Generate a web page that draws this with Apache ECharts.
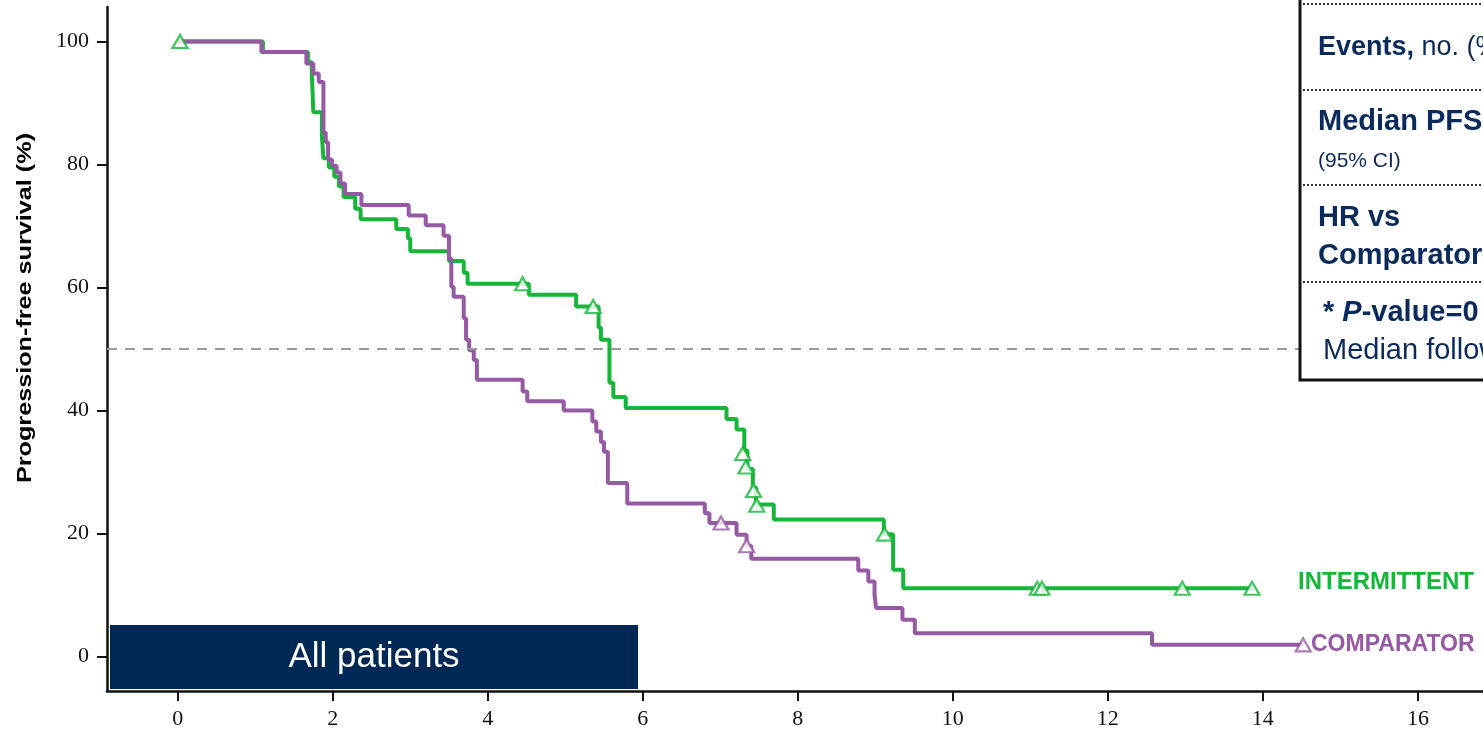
<!DOCTYPE html>
<html><head><meta charset="utf-8">
<script src="https://cdn.jsdelivr.net/npm/echarts@6/dist/echarts.min.js"></script>
<style>html,body{margin:0;padding:0;background:#fff}#c{width:1483px;height:735px}</style>
</head><body><div id="c"></div>
<script>
// ---- data ----
const xTicks = [0, 2, 4, 6, 8, 10, 12, 14, 16];
const yTicks = [0, 20, 40, 60, 80, 100];
const medianLevel = 50;

const intermittentTimes = [0, 1.10, 1.68, 1.73, 1.75, 1.86, 1.88, 1.95, 2.02, 2.08, 2.14, 2.29, 2.36, 2.82, 2.97, 3.00, 3.50, 3.69, 3.74, 4.53, 5.14, 5.43, 5.46, 5.57, 5.62, 5.78, 7.08, 7.21, 7.31, 7.35, 7.42, 7.46, 7.69, 9.11, 9.23, 9.36, 13.87];
const intermittentSurv  = [100, 98.3, 96.6, 94.8, 88.5, 84.7, 81.0, 79.5, 78.0, 76.4, 74.7, 72.8, 71.1, 69.5, 68.0, 65.9, 64.3, 62.4, 60.6, 58.8, 56.9, 53.5, 51.5, 44.5, 42.2, 40.4, 38.6, 36.9, 33.5, 30.5, 27.5, 24.7, 22.3, 19.9, 14.1, 11.1, 11.1];
const intermittentCensorTimes = [0.03, 4.45, 5.36, 7.29, 7.33, 7.43, 7.47, 9.12, 11.09, 11.15, 12.96, 13.86];
const intermittentCensorSurv  = [100, 60.6, 56.9, 33.0, 30.8, 27.0, 24.6, 19.9, 11.1, 11.1, 11.1, 11.1];

const comparatorTimes = [0, 1.08, 1.66, 1.75, 1.82, 1.88, 1.91, 1.94, 1.99, 2.05, 2.10, 2.16, 2.37, 2.98, 3.20, 3.43, 3.50, 3.53, 3.56, 3.69, 3.72, 3.76, 3.82, 3.86, 4.45, 4.51, 4.98, 5.35, 5.40, 5.46, 5.50, 5.55, 5.80, 6.80, 6.86, 7.21, 7.34, 7.40, 8.78, 8.91, 8.99, 9.01, 9.35, 9.51, 12.57, 14.52];
const comparatorSurv  = [100, 98.3, 96.4, 94.8, 93.4, 85.2, 83.6, 80.8, 79.8, 78.7, 76.9, 75.2, 73.4, 71.7, 70.1, 68.4, 64.7, 60.1, 58.5, 55.0, 51.5, 49.8, 48.2, 45.0, 43.1, 41.5, 40.0, 38.2, 36.6, 34.9, 33.3, 28.2, 24.9, 23.3, 21.7, 19.8, 18.0, 15.9, 14.0, 12.2, 10.1, 7.9, 6.0, 3.8, 1.9, 1.9];
const comparatorCensorTimes = [7.01, 7.34, 14.52];
const comparatorCensorSurv  = [21.7, 18.0, 1.9];

const seriesNames = ['INTERMITTENT', 'COMPARATOR'];
// ---------------

const GREEN = '#17b63a', PURPLE = '#9659a3', NAVY = '#0b2a5c';
const zip = (a, b) => a.map((v, i) => [v, b[i]]);

const chart = echarts.init(document.getElementById('c'));
const axisCommon = {
  type: 'value',
  axisLine: { show: true, onZero: false, lineStyle: { color: '#111', width: 2.5 } },
  axisTick: { show: true, length: 10, lineStyle: { color: '#111', width: 2 } },
  splitLine: { show: false },
  axisLabel: { fontFamily: '"Liberation Serif", serif', fontSize: 22, color: '#111' }
};
const tableFont = '"Liberation Sans", Arial, sans-serif';
const dotted = (y) => ({ type: 'line', z: 101, shape: { x1: 1303, y1: y, x2: 1483, y2: y },
  style: { stroke: '#333', lineWidth: 2, lineDash: [2, 2] } });
chart.setOption({
  animation: false,
  grid: { left: 107, right: 0, top: 7, bottom: 44 },
  xAxis: Object.assign({}, axisCommon, {
    min: -0.912, max: 16.84,
    axisTick: Object.assign({}, axisCommon.axisTick, { customValues: xTicks }),
    axisLabel: Object.assign({}, axisCommon.axisLabel, { customValues: xTicks, margin: 17 })
  }),
  yAxis: Object.assign({}, axisCommon, {
    min: -5.6, max: 105.6,
    axisTick: Object.assign({}, axisCommon.axisTick, { customValues: yTicks }),
    axisLabel: Object.assign({}, axisCommon.axisLabel, { customValues: yTicks, margin: 18 })
  }),
  series: [
    {
      name: seriesNames[0], type: 'line', step: 'end', showSymbol: false,
      data: zip(intermittentTimes, intermittentSurv),
      lineStyle: { color: GREEN, width: 4 }, itemStyle: { color: GREEN }, z: 3,
      markLine: {
        silent: true, symbol: 'none', label: { show: false },
        lineStyle: { color: '#9a9a9a', type: [10, 8], width: 2 },
        data: [{ yAxis: medianLevel }]
      }
    },
    {
      name: seriesNames[1], type: 'line', step: 'end', showSymbol: false,
      data: zip(comparatorTimes, comparatorSurv),
      lineStyle: { color: PURPLE, width: 4 }, itemStyle: { color: PURPLE }, z: 4
    },
    {
      type: 'scatter', symbol: 'triangle', symbolSize: [15, 13], z: 5,
      data: zip(intermittentCensorTimes, intermittentCensorSurv),
      itemStyle: { color: '#fff', borderColor: GREEN, borderWidth: 2.2 }
    },
    {
      type: 'scatter', symbol: 'triangle', symbolSize: [15, 13], z: 5,
      data: zip(comparatorCensorTimes, comparatorCensorSurv),
      itemStyle: { color: '#fff', borderColor: PURPLE, borderWidth: 2.2 }
    }
  ],
  graphic: { elements: [
    { type: 'text', x: 25, y: 308, rotation: Math.PI / 2, scaleX: 1.2, z: 100,
      style: { text: 'Progression-free survival (%)', font: 'bold 21px "Liberation Sans", Arial, sans-serif',
               fill: '#000', textAlign: 'center', textVerticalAlign: 'middle' } },
    { type: 'rect', z: 100, shape: { x: 110, y: 625, width: 528, height: 64 }, style: { fill: '#002855' } },
    { type: 'text', z: 101, x: 374, y: 657,
      style: { text: 'All patients', font: '35px "Liberation Sans", Arial, sans-serif', fill: '#fff',
               textAlign: 'center', textVerticalAlign: 'middle' } },
    { type: 'text', z: 100, x: 1298, y: 582,
      style: { text: seriesNames[0], font: 'bold 24px "Liberation Sans", Arial, sans-serif', fill: GREEN,
               textVerticalAlign: 'middle' } },
    { type: 'text', z: 100, x: 1311, y: 645,
      style: { text: seriesNames[1], font: 'bold 23px "Liberation Sans", Arial, sans-serif', fill: PURPLE,
               textVerticalAlign: 'middle' } },
    // table box
    { type: 'rect', z: 100, shape: { x: 1300, y: -10, width: 200, height: 390 },
      style: { fill: '#fff', stroke: '#111', lineWidth: 3 } },
    dotted(4), dotted(90), dotted(185), dotted(282),
    { type: 'text', z: 101, x: 1318, y: 48,
      style: { text: '{b|Events,} no. (%)', font: '27px ' + tableFont, fill: NAVY, textVerticalAlign: 'middle',
               rich: { b: { fontWeight: 'bold', fontSize: 27, fontFamily: tableFont, fill: NAVY } } } },
    { type: 'text', z: 101, x: 1318, y: 122,
      style: { text: 'Median PFS', font: 'bold 29px ' + tableFont, fill: NAVY, textVerticalAlign: 'middle' } },
    { type: 'text', z: 101, x: 1318, y: 161,
      style: { text: '(95% CI)', font: '21px ' + tableFont, fill: NAVY, textVerticalAlign: 'middle' } },
    { type: 'text', z: 101, x: 1318, y: 218,
      style: { text: 'HR vs', font: 'bold 29px ' + tableFont, fill: NAVY, textVerticalAlign: 'middle' } },
    { type: 'text', z: 101, x: 1318, y: 256,
      style: { text: 'Comparator', font: 'bold 29px ' + tableFont, fill: NAVY, textVerticalAlign: 'middle' } },
    { type: 'text', z: 101, x: 1323, y: 313,
      style: { text: '{b|* }{bi|P}{b|-value=0}', font: 'bold 29px ' + tableFont, fill: NAVY, textVerticalAlign: 'middle',
               rich: { b: { fontWeight: 'bold', fontSize: 29, fontFamily: tableFont, fill: NAVY },
                       bi: { fontWeight: 'bold', fontStyle: 'italic', fontSize: 29, fontFamily: tableFont, fill: NAVY } } } },
    { type: 'text', z: 101, x: 1323, y: 351,
      style: { text: 'Median follow-up', font: '29px ' + tableFont, fill: NAVY, textVerticalAlign: 'middle' } }
  ] }
});
</script></body></html>
